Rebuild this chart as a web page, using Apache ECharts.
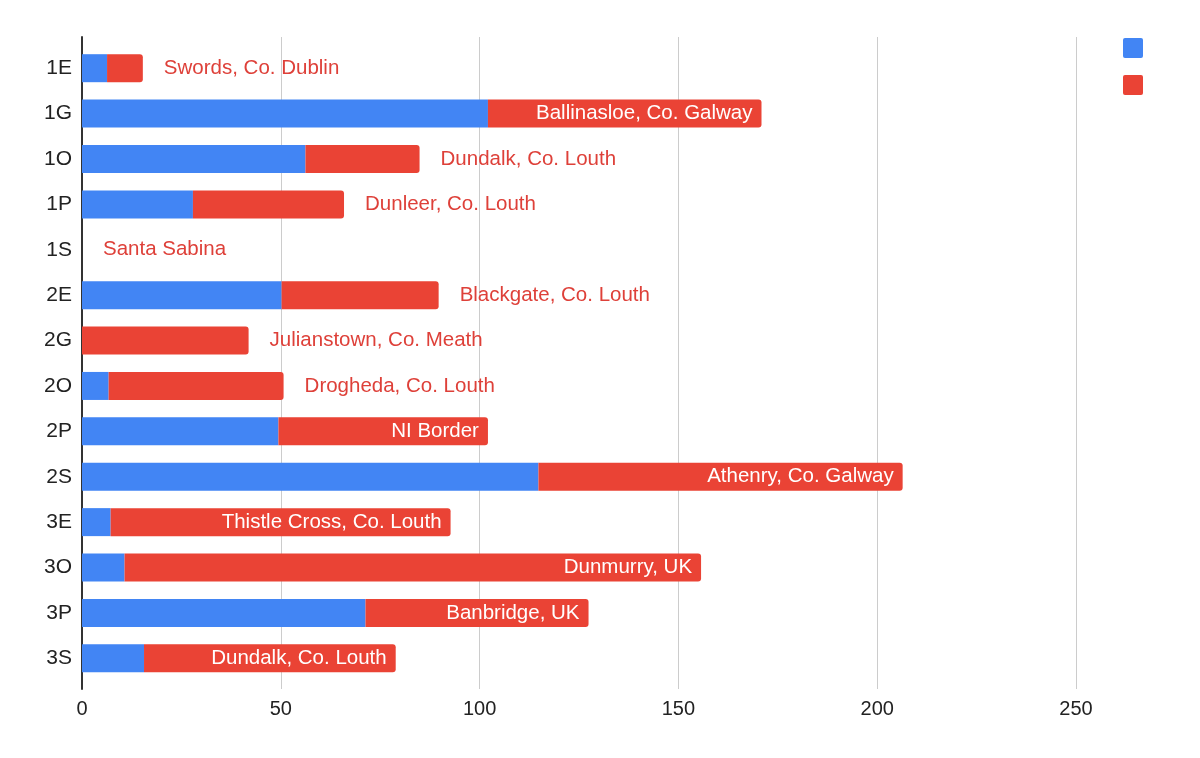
<!DOCTYPE html>
<html>
<head>
<meta charset="utf-8">
<script src="https://cdn.jsdelivr.net/npm/echarts@6/dist/echarts.min.js"></script>
<style>
  html, body { margin: 0; padding: 0; background: #fff; }
  #main { width: 1200px; height: 758px; }
</style>
</head>
<body>
<div id="main"></div>
<script>
var categories = ['1E', '1G', '1O', '1P', '1S', '2E', '2G', '2O', '2P', '2S', '3E', '3O', '3P', '3S'];
var blueValues = [6.3, 102.1, 56.2, 27.9, 0, 50.2, 0, 6.7, 49.4, 114.8, 7.2, 10.7, 71.3, 15.6];
var redValues = [9.0, 68.8, 28.7, 38.0, 0, 39.5, 41.9, 44.0, 52.7, 91.6, 85.5, 145.0, 56.1, 63.3];
var places = ['Swords, Co. Dublin', 'Ballinasloe, Co. Galway', 'Dundalk, Co. Louth', 'Dunleer, Co. Louth',
  'Santa Sabina', 'Blackgate, Co. Louth', 'Julianstown, Co. Meath', 'Drogheda, Co. Louth', 'NI Border',
  'Athenry, Co. Galway', 'Thistle Cross, Co. Louth', 'Dunmurry, UK', 'Banbridge, UK', 'Dundalk, Co. Louth'];
var xTicks = [0, 250, 50]; // min, max, step

var BLUE = '#4285F4';
var RED = '#EA4335';
var LABEL_RED = '#DE4039';
var FONT = '"Liberation Sans", Arial, sans-serif';

var chart = echarts.init(document.getElementById('main'));

// measure label text so it goes inside the red bar only when it fits
var ctx = document.createElement('canvas').getContext('2d');
ctx.font = '20.5px ' + FONT;

function redData(fits) {
  var out = [];
  for (var i = 0; i < redValues.length; i++) {
    var inside = fits ? fits[i] : false;
    out.push({
      value: redValues[i],
      label: inside ? {
        position: 'insideRight', distance: 9, color: '#fff'
      } : {
        position: 'right', distance: 21, color: LABEL_RED
      }
    });
  }
  return out;
}

chart.setOption({
  backgroundColor: '#fff',
  animation: false,
  textStyle: { fontFamily: FONT },
  legend: {
    orient: 'vertical',
    left: 1118,
    top: 33,
    itemWidth: 20,
    itemHeight: 20,
    itemGap: 17,
    icon: 'path://M2,0 L18,0 Q20,0 20,2 L20,18 Q20,20 18,20 L2,20 Q0,20 0,18 L0,2 Q0,0 2,0 Z',
    formatter: function () { return ''; },
    data: ['blue', 'red']
  },
  grid: [
    // frame: gridlines and the 0 line run a little past the bars
    { left: 82, right: 124, top: 37, bottom: 69 },
    // bars
    { left: 82, right: 124, top: 45.5, bottom: 77 }
  ],
  xAxis: [
    {
      gridIndex: 0,
      type: 'value',
      min: xTicks[0], max: xTicks[1], interval: xTicks[2],
      axisLine: { show: false },
      axisTick: { show: false },
      axisLabel: { color: '#222', fontSize: 20, margin: 10, fontFamily: FONT },
      splitLine: { lineStyle: { color: '#cccccc', width: 1 } }
    },
    {
      gridIndex: 1,
      type: 'value',
      min: xTicks[0], max: xTicks[1],
      show: false
    }
  ],
  yAxis: [
    {
      gridIndex: 0,
      type: 'value',
      min: 0, max: 1,
      axisLine: { show: true, lineStyle: { color: '#333', width: 2 } },
      axisTick: { show: false },
      axisLabel: { show: false },
      splitLine: { show: false }
    },
    {
      gridIndex: 1,
      type: 'category',
      inverse: true,
      data: categories,
      axisLine: { show: false },
      axisTick: { show: false },
      axisLabel: { color: '#222', fontSize: 21, margin: 10, fontFamily: FONT },
      splitLine: { show: false }
    }
  ],
  series: [
    {
      name: 'blue',
      type: 'bar',
      stack: 'total',
      xAxisIndex: 1,
      yAxisIndex: 1,
      barWidth: 28,
      itemStyle: { color: BLUE },
      data: blueValues
    },
    {
      name: 'red',
      type: 'bar',
      stack: 'total',
      xAxisIndex: 1,
      yAxisIndex: 1,
      barWidth: 28,
      itemStyle: { color: RED, borderRadius: [0, 3, 3, 0] },
      label: {
        show: true,
        fontSize: 20.5,
        fontFamily: FONT,
        formatter: function (p) { return places[p.dataIndex]; }
      },
      data: redData(null)
    }
  ]
});

// second pass: decide inside/outside from the real pixel width of each red segment
var fits = [];
for (var i = 0; i < redValues.length; i++) {
  var x0 = chart.convertToPixel({ xAxisIndex: 1 }, blueValues[i]);
  var x1 = chart.convertToPixel({ xAxisIndex: 1 }, blueValues[i] + redValues[i]);
  var tw = ctx.measureText(places[i]).width;
  fits.push(redValues[i] > 0 && tw + 18 <= (x1 - x0));
}
chart.setOption({ series: [{}, { data: redData(fits) }] });
</script>
</body>
</html>
